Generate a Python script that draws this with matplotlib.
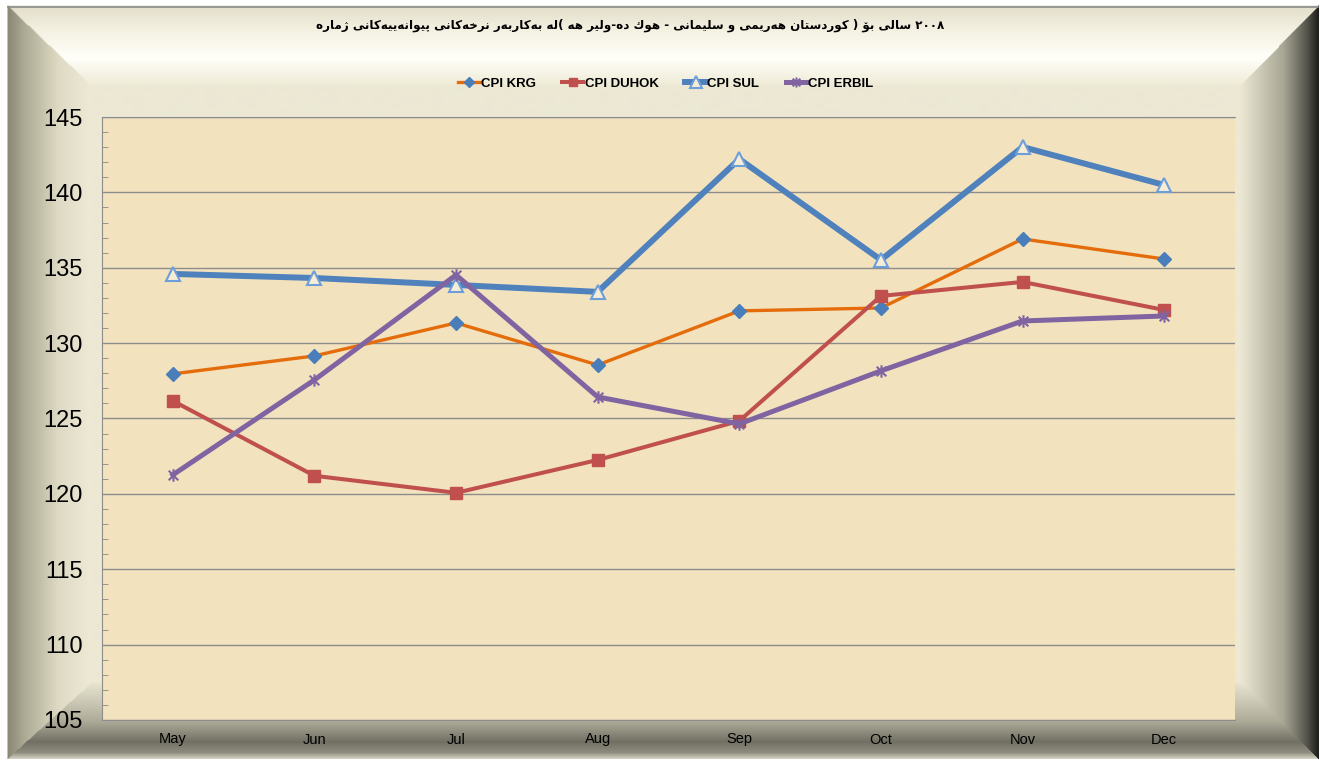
import unicodedata
import numpy as np
import matplotlib
matplotlib.use('Agg')
import matplotlib.pyplot as plt
from matplotlib.path import Path

plt.rcParams['font.family'] = ['Liberation Sans', 'DejaVu Sans']

# 数据
months = ['May', 'Jun', 'Jul', 'Aug', 'Sep', 'Oct', 'Nov', 'Dec']
cpi_krg = [127.96, 129.15, 131.34, 128.55, 132.14, 132.33, 136.91, 135.58]
cpi_duhok = [126.17, 121.2, 120.07, 122.25, 124.84, 133.13, 134.06, 132.2]
cpi_sul = [134.59, 134.32, 133.86, 133.4, 142.21, 135.52, 143.01, 140.49]
cpi_erbil = [121.26, 127.56, 134.52, 126.43, 124.64, 128.16, 131.47, 131.8]
title = 'ژمارە پێوانەییەکانی نرخەکانی بەکاربەر لە( هە ولێر-دە هوك - سلیمانی و هەرێمی کوردستان ) بۆ سالی ٢٠٠٨'

# 简单的阿拉伯字母连写处理（matplotlib 不做字形整形）
ar_names = {'ا': 'ALEF', 'ب': 'BEH', 'پ': 'PEH', 'ت': 'TEH', 'خ': 'KHAH', 'د': 'DAL',
            'ر': 'REH', 'ز': 'ZAIN', 'ژ': 'JEH', 'س': 'SEEN', 'ک': 'KEHEH', 'ك': 'KAF',
            'ل': 'LAM', 'م': 'MEEM', 'ن': 'NOON', 'ه': 'HEH', 'ە': 'HEH', 'و': 'WAW',
            'ۆ': 'OE', 'ی': 'FARSI YEH', 'ێ': 'FARSI YEH'}
right_only = set('ادذرزژوۆە')


def get_form(ch, f):
    name = ar_names.get(ch)
    if name is None:
        return ch
    try:
        return unicodedata.lookup('ARABIC LETTER %s %s FORM' % (name, f))
    except KeyError:
        return ch


def shape_word(word):
    out = ''
    run = []
    for i, ch in enumerate(word + ' '):
        if ch in ar_names and i < len(word):
            run.append(ch)
            continue
        shaped = []
        for j, c in enumerate(run):
            prev_j = j > 0 and run[j - 1] not in right_only
            next_j = j < len(run) - 1 and c not in right_only
            f = 'MEDIAL' if prev_j and next_j else 'FINAL' if prev_j else 'INITIAL' if next_j else 'ISOLATED'
            shaped.append(get_form(c, f))
        out += ''.join(shaped[::-1])
        run = []
        if i < len(word):
            out += ch
    return out


title_shaped = ' '.join(shape_word(w) for w in title.split(' '))

W, H = 1320, 762
fig = plt.figure(figsize=(W / 100, H / 100), dpi=100)

# 背景边框（斜面效果）
yy, xx = np.mgrid[0:H, 0:W].astype(float)
x0, x1, y0, y1 = 8, 1318, 7, 759
bevel = {'l': 84, 'r': 78, 't': 80, 'b': 76}
nd = np.stack([(xx - x0) / bevel['l'], (x1 - xx) / bevel['r'],
               (yy - y0) / bevel['t'], (y1 - yy) / bevel['b']])
which = nd.argmin(axis=0)
t = np.clip(nd.min(axis=0), 0, 1)


def hexrgb(c):
    return [int(c[i:i + 2], 16) / 255 for i in (1, 3, 5)]


stops = [
    ([0, 0.2, 0.6, 1], ['#8A8876', '#ADAB95', '#DEDAC4', '#EEEAD6']),
    ([0, 0.15, 0.45, 1], ['#1E1E1A', '#55554C', '#A8A694', '#ECE8D4']),
    ([0, 0.3, 0.65, 1], ['#E2DECA', '#F4F1E2', '#FFFFF9', '#EEEAD6']),
    ([0, 0.08, 0.22, 0.5, 1], ['#D2D0BE', '#8E8C7E', '#727064', '#AFAD9A', '#E8E4D0']),
]
img = np.ones((H, W, 3))
for k, (pos, cols) in enumerate(stops):
    rgb = np.array([hexrgb(c) for c in cols])
    m = which == k
    for ch in range(3):
        img[..., ch][m] = np.interp(t[m], pos, rgb[:, ch])
inner = nd.min(axis=0) >= 1
img[inner] = hexrgb('#ECE8D4')
outside = nd.min(axis=0) < 0
img[outside] = 1.0
bg = fig.add_axes([0, 0, 1, 1], zorder=-1)
bg.imshow(img, aspect='auto', interpolation='bilinear')
bg.plot([x0, x1], [y0, y0], color='#8A8A8A', lw=1.2)
bg.set_xlim(0, W)
bg.set_ylim(H, 0)
bg.axis('off')

ax = fig.add_axes([102 / W, 1 - 720 / H, (1235 - 102) / W, (720 - 117) / H])
ax.set_facecolor('#F2E2BE')
x = np.arange(len(months))

star = Path([(-1, -1), (1, 1), (-1, 1), (1, -1), (0, -1.3), (0, 1.3)],
            [Path.MOVETO, Path.LINETO, Path.MOVETO, Path.LINETO, Path.MOVETO, Path.LINETO])

ax.plot(x, cpi_krg, color='#E46C0A', lw=2.4, marker='D', ms=7, mfc='#4A7EBB', mec='#4A7EBB', label='CPI KRG')
ax.plot(x, cpi_duhok, color='#C0504D', lw=2.9, marker='s', ms=8, mfc='#C0504D', mec='#C0504D', label='CPI DUHOK')
ax.plot(x, cpi_sul, color='#4F81BD', lw=4.3, marker='^', ms=10, mfc='#F6EDD6', mec='#6C9FDA', mew=1.5, label='CPI SUL')
ax.plot(x, cpi_erbil, color='#8064A2', lw=3.6, marker=star, ms=9, mfc='none', mec='#8064A2', mew=1.5, label='CPI ERBIL')

ax.set_xlim(-0.5, 7.5)
ax.set_ylim(105, 145)
ax.set_yticks(range(105, 146, 5))
ax.set_yticks(range(105, 146), minor=True)
ax.set_xticks(x)
ax.set_xticklabels(months, fontsize=10.5)
ax.tick_params(axis='y', which='major', labelsize=17, length=0, pad=14)
ax.tick_params(axis='y', which='minor', direction='in', length=4, color='#888888')
ax.tick_params(axis='x', length=0, pad=9)
ax.grid(axis='y', color='#8C8C8C', lw=1)
ax.set_axisbelow(True)
for s in ax.spines.values():
    s.set_color('#8C8C8C')
ax.spines['right'].set_visible(False)

fig.text(630 / W, 1 - 25 / H, title_shaped, ha='center', va='center', fontsize=8.6,
         fontweight='bold', family=['DejaVu Sans'])

fig.legend(loc='center', bbox_to_anchor=(666 / W, 1 - 84 / H), ncol=4, frameon=False,
           prop={'size': 9.5, 'weight': 'bold'}, handlelength=1.6, handletextpad=0.1,
           columnspacing=2.0, markerscale=0.8)

plt.savefig('out.png', dpi=100)
